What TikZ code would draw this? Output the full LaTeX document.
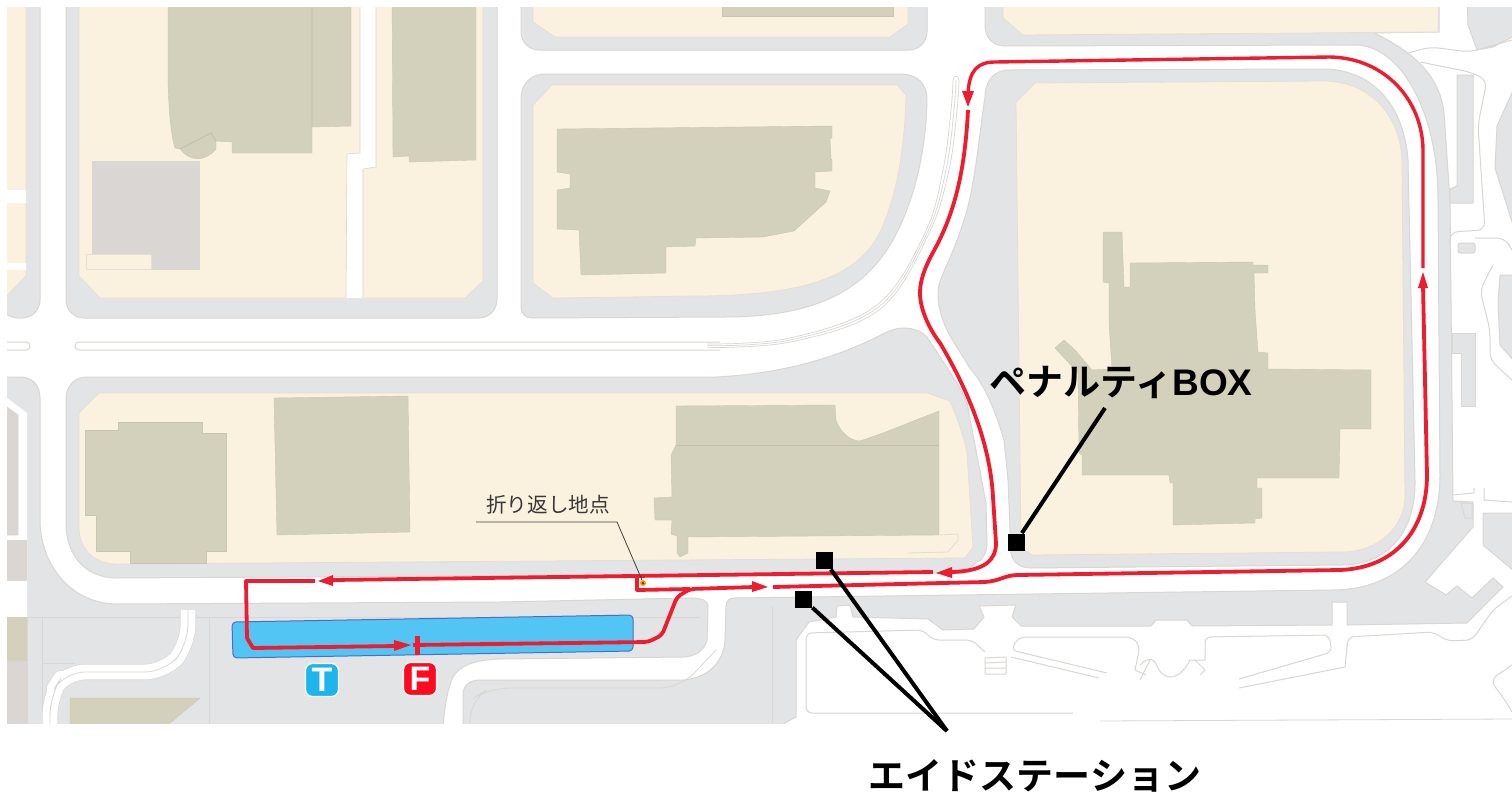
\documentclass[tikz,border=0pt]{standalone}
\usepackage{fontspec}
\setmainfont{Liberation Sans}
\newfontfamily\cjkbold[BoldFont={Noto Sans CJK JP Bold}]{Noto Sans CJK JP}
\usetikzlibrary{arrows.meta}
\definecolor{walk}{HTML}{E3E4E6}
\definecolor{edgec}{HTML}{DAD6D2}
\definecolor{block}{HTML}{FAF2DE}
\definecolor{bldg}{HTML}{D3D0BC}
\definecolor{greyb}{HTML}{D9D6D3}
\definecolor{route}{HTML}{ED1C2E}
\definecolor{pool}{HTML}{52C5F5}
\definecolor{poolb}{HTML}{4A6FC0}
\definecolor{tblue}{HTML}{1EB4EC}
\definecolor{fred}{HTML}{FF0A1E}
\tikzset{
 walkf/.style={fill=walk,draw=edgec,line width=0.5pt,line join=round},
 blockf/.style={fill=block,draw=edgec!70!block,line width=0.4pt,line join=round},
 bldgf/.style={fill=bldg,draw=bldg!95!black,line width=0.2pt,line join=round},
 greyf/.style={fill=greyb,draw=edgec,line width=0.3pt},
 thin line/.style={draw=edgec,line width=0.5pt,line join=round},
 routeline/.style={draw=route,line width=1.9pt,line join=round},
 arrowtip/.style={fill=route,draw=none},
 marker/.style={fill=black,minimum width=8.5pt,minimum height=8.5pt,inner sep=0pt,draw=none},
 leader/.style={draw=black,line width=2pt},
 biglabel/.style={font=\cjkbold\bfseries\fontsize{18.5}{20}\selectfont,inner sep=0pt},
 badge/.style={draw=white,line width=0.6pt,rounded corners=3.5pt,minimum width=16.5pt,minimum height=16.5pt,inner sep=0pt,text=white,font=\bfseries\fontsize{17}{17}\selectfont}
}
\begin{document}
\begin{tikzpicture}[x=0.5pt,y=-0.5pt]
\useasboundingbox (0,0) rectangle (1512,798);
\fill[white] (0,0) rectangle (1512,798);
\begin{scope}
\clip (7,7) rectangle (1512,723);
% top-left sliver
\path[walkf,rounded corners=9pt] (0,-10) -- (40,-10) -- (40,318) -- (0,318) -- cycle;
\path[blockf] (0,-10) -- (26,-10) -- (26,276) -- (0,303) -- cycle;
\fill[white] (0,190) rectangle (26,203) (0,263) rectangle (26,270);
% block A
\path[walkf,rounded corners=9pt] (66,-10) -- (497,-10) -- (497,318) -- (66,318) -- cycle;
\path[blockf] (79,-10) -- (483,-10) -- (483,281) -- (465,298) -- (100,298) -- (79,276) -- cycle;
\fill[white] (346,298) -- (347,154) -- (360,153) -- (360,-10) -- (376,-10) -- (376,167) -- (363,169) -- (363,298) -- cycle;
\draw[thin line,line width=0.3pt] (346,298) -- (347,154) -- (360,153) -- (360,-10) (376,-10) -- (376,167) -- (363,169) -- (363,298);
\path[bldgf] (168,-10) -- (168,80) .. controls (169,115) and (171,135) .. (175,148) -- (180,149) .. controls (190,162) and (205,162) .. (216,149) -- (216,141) -- (232,142) -- (232,153) -- (312,153) -- (312,127) -- (351,126) -- (351,-10) -- cycle;
\draw[bldg!90!black,line width=0.3pt] (312,-10) -- (312,127) (180,149) -- (211,133) -- (216,141);
\path[bldgf] (392,-10) -- (393,157) -- (409,156) -- (409,162) -- (476,160) -- (476,-10) -- cycle;
\path[greyf] (92,161) rectangle (199,269);
\path[blockf] (86,254) rectangle (151,269);
% median
\draw[thin line,rounded corners=2pt,fill=white] (-20,342) -- (30,342) -- (30,350) -- (-20,350);
\draw[thin line] (720,342) -- (80,342) .. controls (73,342) and (73,350) .. (80,350) -- (720,350);
\foreach \d in {0,3,6} {
 \draw[edgec,line width=0.35pt] plot[smooth,tension=0.6] coordinates {(707,{344+\d*0.6}) ({790+\d*0.4},{338+\d*0.6}) ({877+\d*0.5},{305+\d*0.7}) ({925+\d*0.6},{233+\d*0.2}) ({943+\d},170) ({951+\d},110) ({953+\d},80)};
}
\draw[edgec,line width=0.35pt] (953,80) .. controls (953,75) and (959,75) .. (959,80);
% block top mid
\path[walkf,rounded corners=9pt] (521,-10) -- (927,-10) -- (927,50) -- (521,50) -- cycle;
\path[blockf] (533,-10) -- (908,-10) -- (908,24) -- (890,37) -- (555,37) -- (533,22) -- cycle;
\path[bldgf] (722,-10) rectangle (893,16);
% block C
\path[walkf] (521,100) .. controls (521,84) and (530,74) .. (546,74) -- (900,74) .. controls (918,74) and (927,84) .. (927,100) .. controls (926,150) and (915,200) .. (893,240) .. controls (870,280) and (830,317) .. (725,317) -- (532,318) .. controls (525,318) and (521,313) .. (521,307) -- cycle;
\path[blockf] (533,105) -- (552,85) -- (897,85) -- (906,95) .. controls (905,140) and (899,190) .. (881,230) .. controls (860,275) and (810,295) .. (700,296) -- (553,298) -- (533,283) -- cycle;
\path[bldgf] (557,129) -- (832,126) -- (832,137) -- (830,139) -- (831,159) -- (832,160) -- (832,171) -- (815,172) -- (815,188) -- (830,191) -- (826,202) -- (794,231) -- (763,237) -- (696,238) -- (695,246) -- (666,247) -- (666,273) -- (581,275) -- (579,230) -- (557,229) -- (557,190) -- (570,188) -- (570,174) -- (557,172) -- cycle;
% block D
\path[walkf] (985,97) .. controls (985,80) and (995,70) .. (1009,70) -- (1323,69) .. controls (1372,69) and (1404,105) .. (1408,160) -- (1415,480) .. controls (1416,535) and (1385,565) .. (1342,565) -- (1031,568) .. controls (1018,568) and (1012,560) .. (1011,553) -- (1008,480) -- (1004,440) .. controls (995,410) and (985,385) .. (969,367) .. controls (957,345) and (938,325) .. (938,293) .. controls (938,277) and (950,265) .. (965,217) .. controls (975,185) and (980,130) .. cycle;
\path[blockf] (1016,102) -- (1035,83) -- (1323,81) .. controls (1370,81) and (1400,115) .. (1402,160) -- (1405,497) .. controls (1405,525) and (1380,552) .. (1342,552) -- (1032,555) -- (1021,547) -- cycle;
\path[bldgf] (1103,232) -- (1122,232) -- (1124,287) -- (1130,287) -- (1130,263) -- (1253,262) -- (1253,265) -- (1268,265) -- (1268,273) -- (1254,273) -- (1255,310) -- (1258,352) -- (1268,353) -- (1268,369) -- (1371,370) -- (1371,429) -- (1340,429) -- (1339,478) -- (1257,478) -- (1257,488) -- (1262,488) -- (1262,518) -- (1255,519) -- (1255,523) -- (1173,525) -- (1173,483) -- (1170,483) -- (1169,475) -- (1082,475) -- (1082,455) -- (1079,453) -- (1078,373) -- (1055,348) -- (1064,340) -- (1075,350) -- (1092,370) -- (1112,369) -- (1109,323) -- (1109,283) -- (1103,282) -- cycle;
% block F
\path[walkf] (66,400) .. controls (66,385) and (75,377) .. (88,377) -- (717,377) .. controls (790,373) and (840,355) .. (877,337) .. controls (890,330) and (897,328) .. (903,328) .. controls (915,328) and (922,332) .. (927,337) .. controls (945,365) and (960,385) .. (967,403) -- (986,503) -- (987,543) .. controls (987,555) and (980,562) .. (977,562) -- (963,573) -- (117,578) .. controls (85,578) and (66,555) .. (66,523) -- cycle;
\path[blockf] (79,413) -- (99,393) -- (927,393) -- (950,401) .. controls (960,425) and (966,445) .. (967,453) -- (973,547) -- (965,558) -- (117,564) .. controls (95,564) and (79,550) .. (79,527) -- cycle;
\path[bldgf] (85,430) -- (118,430) -- (118,422) -- (202,422) -- (202,433) -- (226,433) -- (226,551) -- (206,551) -- (206,563) -- (130,563) -- (130,551) -- (96,551) -- (96,515) -- (85,515) -- cycle;
\path[bldgf] (274,398) -- (408,396) -- (410,532) -- (277,535) -- cycle;
\path[bldgf] (676,406) -- (835,405) -- (836,420) .. controls (840,432) and (850,441) .. (860,441) -- (883,433) -- (939,411) -- (939,535) -- (688,537) -- (688,553) -- (680,557) -- (677,553) -- (677,536) -- (671,534) -- (672,520) -- (655,520) -- (654,498) -- (672,497) -- (671,455) -- (676,445) -- cycle;
\draw[bldg!92!black,line width=0.3pt] (676,445) -- (939,445);
\draw[edgec!80!block,line width=0.4pt] (940,535) -- (958,534) -- (958,540) -- (948,552) -- (908,553);
% upper right band, right and lower sidewalk
\path[walkf] (985,-10) -- (1439,-10) -- (1439,32) -- (1374,33) .. controls (1420,55) and (1440,80) .. (1444,113) -- (1450,200) -- (1453,501) -- (1473,502) -- (1473,527) -- (1425,582) -- (1446,595) -- (1457,586) -- (1472,598) -- (1493,578) -- (1503,587) -- (1467,623) -- (1347,625) -- (1347,602) -- (1332,602) -- (1332,625) -- (1192,626) -- (1187,620) -- (1156,620) -- (1151,626) -- (1021,626) -- (1012,617) -- (1016,605) -- (979,606) -- (984,617) -- (974,629) -- (943,630) -- (928,619) -- (853,617) -- (850,605) -- (837,606) -- (836,617) -- (809,622) -- (796,640) -- (796,717) -- (785,723) -- (780,735) -- (463,735) -- (463,695) .. controls (463,685) and (470,680) .. (480,680) -- (683,680) .. controls (710,678) and (724,660) .. (725,640) -- (726,606) .. controls (726,600) and (730,598) .. (735,598) -- (1332,590) .. controls (1400,590) and (1440,545) .. (1440,475) -- (1438,200) .. controls (1438,110) and (1400,46) .. (1356,45) -- (1005,46) .. controls (993,46) and (985,38) .. (985,25) -- cycle;
\path[blockf] (1003,-10) -- (1003,18) -- (1023,35) -- (1438,32) -- (1439,-10) -- cycle;
\draw[edgec,line width=0.4pt] (772,606) -- (772,723);
% left lower sidewalk
\path[walkf] (-10,377) -- (20,377) .. controls (32,377) and (40,385) .. (40,398) -- (40,523) .. controls (42,570) and (75,604) .. (117,604) -- (500,602) -- (690,598) .. controls (702,598) and (708,600) .. (708,607) -- (707,640) .. controls (705,650) and (695,657) .. (683,657) -- (500,659) .. controls (475,660) and (460,665) .. (453,677) .. controls (447,690) and (445,705) .. (442,735) -- (-10,735) -- cycle;
\fill[white] (-10,398) -- (7,398) -- (27,413) -- (27,617) -- (-10,617) -- cycle;
\path[greyf] (-10,407) -- (7,407) -- (18,415) -- (18,535) -- (-10,535) -- cycle;
\path[greyf] (-10,540) -- (26,540) -- (26,580) -- (-10,580) -- cycle;
\fill[bldg] (-10,617) rectangle (27,661);
\fill[greyb] (-10,661) rectangle (27,735);
\draw[edgec,line width=0.4pt] (27,617) -- (700,617) (27,617) -- (27,735) (42,617) -- (42,735) (42,663) -- (75,663) (209,617) -- (209,735);
\draw[edgec,line width=8pt,line join=round,rounded corners=10pt] (188,610) -- (188,645) -- (165,672) -- (65,672) -- (50,695) -- (50,735);
\draw[white,line width=7.4pt,line join=round,rounded corners=10pt] (188,610) -- (188,645) -- (165,672) -- (65,672) -- (50,695) -- (50,735);
\draw[edgec,line width=0.4pt,line join=round,rounded corners=10pt] (188,610) -- (188,645) -- (165,672) -- (65,672) -- (50,695) -- (50,735);
\path[bldgf] (70,698) -- (200,698) -- (170,723) -- (170,735) -- (70,735) -- cycle;
\draw[edgec,line width=0.4pt,rounded corners=10pt] (470,735) -- (470,700) -- (490,688) -- (680,688) -- (716,650);
% right side gray pieces
\path[walkf] (1467,-10) -- (1520,-10) -- (1520,33) -- (1493,47) -- (1477,50) -- (1468,25) -- cycle;
\path[walkf] (1457,75) -- (1473,75) -- (1473,203) -- (1450,203) -- (1450,189) -- (1457,186) -- cycle;
\path[walkf] (1452,333) -- (1475,333) -- (1475,406) -- (1461,406) -- (1461,353) -- (1452,353) -- cycle;
\path[walkf,rounded corners=1pt] (1458,243) rectangle (1475,253);
\path[walkf] (1520,75) -- (1497,126) -- (1495,168) -- (1520,247) -- cycle;
\path[walkf] (1520,275) -- (1500,275) -- (1498,303) -- (1500,345) -- (1520,368) -- cycle;
\path[walkf] (1483,513) -- (1520,513) -- (1520,576) -- (1483,545) -- cycle;
\path[walkf] (1461,503) -- (1472,503) -- (1472,518) -- (1465,518) -- cycle;
% thin outlines
\draw[thin line,rounded corners=3pt] (1073,713) -- (806,713) -- (806,633) -- (923,630) -- (933,640) -- (972,640) -- (985,652);
\draw[thin line,rounded corners=3pt] (1135,670) -- (1140,646) -- (1132,637) -- (1019,637) -- (1011,650) -- (1107,673);
\draw[thin line] (1011,657) -- (1099,678);
\draw[thin line,rounded corners=3pt] (1205,660) -- (1205,637) -- (1329,635) -- (1332,652) -- (1239,679);
\draw[thin line] (1239,688) -- (1345,667);
\draw[thin line,rounded corners=3pt] (1345,667) -- (1348,637) -- (1433,632) -- (1448,641) -- (1472,640) -- (1493,610) -- (1520,590);
\draw[thin line] (1140,665) .. controls (1150,655) and (1155,660) .. (1158,668) .. controls (1165,682) and (1180,680) .. (1190,660) -- (1205,660);
\draw[thin line] (985,658) -- (1006,657) -- (1006,674) -- (985,674) -- cycle (985,663) -- (1006,662) (985,668) -- (1006,668);
\draw[thin line] (1135,670) -- (1146,675) (1150,660) -- (1140,680);
\draw[thin line] (1195,660) -- (1205,670) -- (1200,675);
\draw[thin line,rounded corners=4pt] (1408,53) -- (1430,47) -- (1470,52) -- (1512,40);
\draw[thin line,rounded corners=4pt] (1420,62) -- (1470,72) -- (1487,80) -- (1478,125) -- (1485,230) -- (1450,232) -- (1450,243);
\draw[thin line,rounded corners=4pt] (1475,238) -- (1505,238) -- (1512,250);
\draw[thin line,rounded corners=4pt] (1493,265) -- (1480,290) -- (1490,330) -- (1490,360) -- (1512,380);
\draw[thin line] (1453,495) -- (1474,493) -- (1474,488) (1484,488) -- (1484,500) -- (1512,502);
\draw[thin line,rounded corners=4pt] (1512,665) -- (1490,680) -- (1505,700) -- (1512,712);
\draw[edgec,line width=0.4pt] (1100,721) -- (1512,719);
\end{scope}
% start area
\path[fill=pool,draw=poolb,line width=0.5pt,rounded corners=2pt] (232,622) -- (633,615) -- (633,651) -- (233,658) -- cycle;
% route
\path[routeline,rounded corners=2pt] (413,645) -- (648,642) -- (662,635) -- (677,597) -- (690,589) -- (754,587);
\path[routeline] (773,587) -- (985,582) .. controls (1000,581) and (1005,575) .. (1018,575) -- (1340,570) .. controls (1395,568) and (1427,530) .. (1427,475) -- (1423,285);
\path[routeline,line width=1.7pt] (1423,268) -- (1423,149) .. controls (1422,100) and (1385,58) .. (1330,57) -- (995,62) .. controls (978,62) and (969,70) .. (968,94);
\path[routeline] (968,110) .. controls (965,170) and (955,210) .. (937,245) .. controls (930,258) and (920,275) .. (920,293) .. controls (920,310) and (930,330) .. (940,343) .. controls (965,385) and (990,440) .. (993,497) -- (996,543) .. controls (996,560) and (985,571) .. (952,572);
\path[routeline] (933,572) -- (333,580);
\path[routeline] (637,577) -- (637,590) -- (690,589);
\path[routeline] (315,581) -- (246,581) -- (247,638) -- (253,648) -- (397,646);
\fill[arrowtip] (1423,272) -- (1428,288) -- (1418,288) -- cycle;
\fill[arrowtip] (968,107) -- (962,91) -- (974,91) -- cycle;
\fill[arrowtip] (936,573) -- (952,567) -- (952,578) -- cycle;
\fill[arrowtip] (318,581) -- (333,575) -- (333,586) -- cycle;
\fill[arrowtip] (411,645) -- (394,640) -- (394,651) -- cycle;
\fill[arrowtip] (768,587) -- (752,581) -- (752,592) -- cycle;
\draw[route,line width=2.5pt] (417,636) -- (417,655);
\fill[orange!80!yellow] (643,583) circle (3);
\fill[route!80!black] (643,583) circle (1.5);
% turn-around label
\node[font=\cjkbold\fontsize{10.3}{12}\selectfont,text=black!78,inner sep=0pt] (turn) at (548,505) {折り返し地点};
\coordinate (t1) at (476,522); \coordinate (t2) at (617,522); \coordinate (t3) at (642,580);
\draw[black!75,line width=0.4pt] (t1) -- (t2) -- (t3);
% badges
\node[badge,fill=tblue] (T) at (322,680) {T};
\node[badge,fill=fred] (F) at (420,679) {F};
% callouts
\node[marker] (mbox) at (1016,542) {};
\node[marker] (maid1) at (824.5,560.5) {};
\node[marker] (maid2) at (803.5,599.5) {};
\node[biglabel,anchor=center] (lbox) at (1121,382) {ペナルティ{\fontspec{Liberation Sans Bold}\fontsize{18.5}{20}\selectfont BOX}};
\node[biglabel,anchor=center] (laid) at (1035,776) {エイドステーション};
\coordinate (cbox) at (1105,408);
\coordinate (caid) at (947,731);
\draw[leader] (mbox) -- (cbox);
\draw[leader] (maid1) -- (caid);
\draw[leader] (maid2) -- (caid);
\end{tikzpicture}
\end{document}
